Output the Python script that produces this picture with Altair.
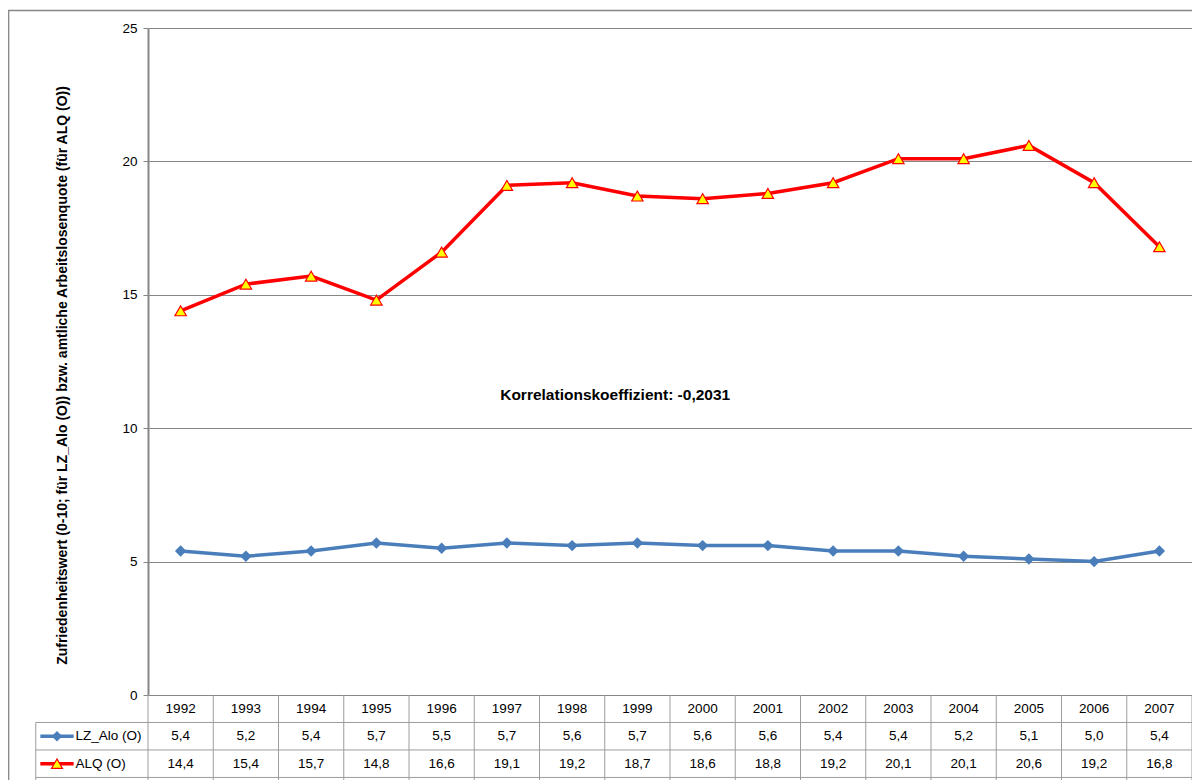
import altair as alt
import pandas as pd

# ---------------- data ----------------
years = list(range(1992, 2008))
lz_alo = [5.4, 5.2, 5.4, 5.7, 5.5, 5.7, 5.6, 5.7, 5.6, 5.6, 5.4, 5.4, 5.2, 5.1, 5.0, 5.4]
alq = [14.4, 15.4, 15.7, 14.8, 16.6, 19.1, 19.2, 18.7, 18.6, 18.8, 19.2, 20.1, 20.1, 20.6, 19.2, 16.8]
series_names = ["LZ_Alo (O)", "ALQ (O)"]
y_ticks = [0, 5, 10, 15, 20, 25]
title_text = "in Ostdeutschland 1992 bis 2007"
y_title = "Zufriedenheitswert (0-10; für LZ_Alo (O)) bzw. amtliche Arbeitslosenquote (für ALQ  (O))"
note_text = "Korrelationskoeffizient: -0,2031"

# ---------------- layout constants ----------------
W, H = 1044, 667
FONT = "Liberation Sans"
BLUE = "#4A7EBB"
RED = "#FF0000"
YELLOW = "#FFFF00"
GRID = "#868686"
TABLE = "#9C9C9C"
RH = 1.03          # table row height in y-units
LEG_X0 = 1989.78   # left edge of legend column (x units)
X0, X1 = 1991.5, 2007.5

def fmt(v):
    return f"{v:.1f}".replace(".", ",")

df_lz = pd.DataFrame({"year": years, "value": lz_alo})
df_alq = pd.DataFrame({"year": years, "value": alq})

xs = alt.Scale(domain=[X0, X1], nice=False, zero=False)
ys = alt.Scale(domain=[0, 25], nice=False, zero=False)

X = lambda f="year": alt.X(f"{f}:Q", scale=xs, axis=None)
Y = lambda f="value": alt.Y(f"{f}:Q", scale=ys,
                             axis=alt.Axis(values=y_ticks, title=y_title, grid=True))

# axis / grid carrier
base = alt.Chart(pd.DataFrame({"year": [X0], "value": [0]})).mark_point(opacity=0).encode(
    x=X(), y=Y()
)

# frame around the whole chart
frame = alt.Chart(pd.DataFrame({"a": [0]})).mark_rect(
    fillOpacity=0, stroke=GRID, strokeWidth=1.3
).encode(
    x=alt.value(-139.3), x2=alt.value(W + 60),
    y=alt.value(-17.5), y2=alt.value(H + 300)
)

# series lines
blue_line = alt.Chart(df_lz).mark_line(color=BLUE, strokeWidth=3.5).encode(x=X(), y=Y())
blue_pts = alt.Chart(df_lz).mark_point(shape="diamond", filled=True, size=130,
                                       color=BLUE, opacity=1).encode(x=X(), y=Y())
red_line = alt.Chart(df_alq).mark_line(color=RED, strokeWidth=3.5).encode(x=X(), y=Y())
red_pts = alt.Chart(df_alq).mark_point(shape="triangle-up", filled=True, size=130,
                                       fill=YELLOW, stroke=RED, strokeWidth=1.2,
                                       opacity=1).encode(x=X(), y=Y())

# annotation
note = alt.Chart(pd.DataFrame({"x": [1998.66], "y": [11.25], "t": [note_text]})).mark_text(
    font=FONT, fontSize=15.5, fontWeight="bold", color="black", align="center", baseline="middle"
).encode(x=X("x"), y=Y("y"), text="t:N")

# clipped-off title at top (as in the reference, it lies mostly above the frame)
title = alt.Chart(pd.DataFrame({"x": [1992.0], "y": [25.9], "t": [title_text]})).mark_text(
    font=FONT, fontSize=24, color="black", align="left", baseline="alphabetic"
).encode(x=X("x"), y=Y("y"), text="t:N")

# ---------------- data table ----------------
rows = []
for i, yr in enumerate(years):
    rows.append({"x": yr, "y": -0.5 * RH, "t": str(yr)})
    rows.append({"x": yr, "y": -1.5 * RH, "t": fmt(lz_alo[i])})
    rows.append({"x": yr, "y": -2.5 * RH, "t": fmt(alq[i])})
df_cells = pd.DataFrame(rows)
cells = alt.Chart(df_cells).mark_text(
    font=FONT, fontSize=13.5, color="black", align="center", baseline="middle"
).encode(x=X("x"), y=Y("y"), text="t:N")

# vertical table lines
vl = [{"x": X0 + k, "y": 0, "y2": -3.6 * RH} for k in range(17)]
vl.append({"x": LEG_X0, "y": -RH, "y2": -3.6 * RH})
vlines = alt.Chart(pd.DataFrame(vl)).mark_rule(color=TABLE, strokeWidth=1).encode(
    x=X("x"), y=Y("y"), y2="y2:Q"
)
hl = [{"x": LEG_X0, "x2": X1, "y": -k * RH} for k in (1, 2, 3)]
hlines = alt.Chart(pd.DataFrame(hl)).mark_rule(color=TABLE, strokeWidth=1).encode(
    x=X("x"), x2="x2:Q", y=Y("y")
)

# legend keys inside table
leg_line = pd.DataFrame({
    "x": [1989.85, 1990.36, 1989.85, 1990.36],
    "y": [-1.5 * RH, -1.5 * RH, -2.5 * RH, -2.5 * RH],
    "s": ["a", "a", "b", "b"],
})
leg_lines = alt.Chart(leg_line).mark_line(strokeWidth=3.5).encode(
    x=X("x"), y=Y("y"), detail="s:N",
    color=alt.Color("s:N", scale=alt.Scale(domain=["a", "b"], range=[BLUE, RED]), legend=None)
)
leg_d = alt.Chart(pd.DataFrame({"x": [1990.105], "y": [-1.5 * RH]})).mark_point(
    shape="diamond", filled=True, size=110, color=BLUE, opacity=1
).encode(x=X("x"), y=Y("y"))
leg_t = alt.Chart(pd.DataFrame({"x": [1990.105], "y": [-2.5 * RH]})).mark_point(
    shape="triangle-up", filled=True, size=120, fill=YELLOW, stroke=RED, strokeWidth=1.2, opacity=1
).encode(x=X("x"), y=Y("y"))
leg_txt = alt.Chart(pd.DataFrame({
    "x": [1990.39, 1990.39], "y": [-1.5 * RH, -2.5 * RH], "t": series_names
})).mark_text(font=FONT, fontSize=13.5, color="black", align="left", baseline="middle").encode(
    x=X("x"), y=Y("y"), text="t:N"
)

chart = alt.layer(
    frame, base, hlines, vlines, cells,
    blue_line, blue_pts, red_line, red_pts,
    leg_lines, leg_d, leg_t, leg_txt, note, title
).properties(
    width=W, height=H,
    autosize=alt.AutoSizeParams(type="none"),
    padding={"left": 140, "top": 20, "right": 0, "bottom": 85},
).configure_view(stroke=None).configure_axis(
    labelFont=FONT, labelFontSize=13.5, labelColor="black",
    titleFont=FONT, titleFontSize=14, titleFontWeight="bold", titleColor="black",
    gridColor=GRID, gridWidth=1, domainColor=GRID, domainWidth=2,
    tickColor=GRID, tickSize=5, labelPadding=6,
).configure_axisLeft(
    titleX=-86, titleY=347, titleAlign="center", titleBaseline="middle", titleAngle=270
)

chart.save("out.html", embed_options={"renderer": "svg", "actions": False})
